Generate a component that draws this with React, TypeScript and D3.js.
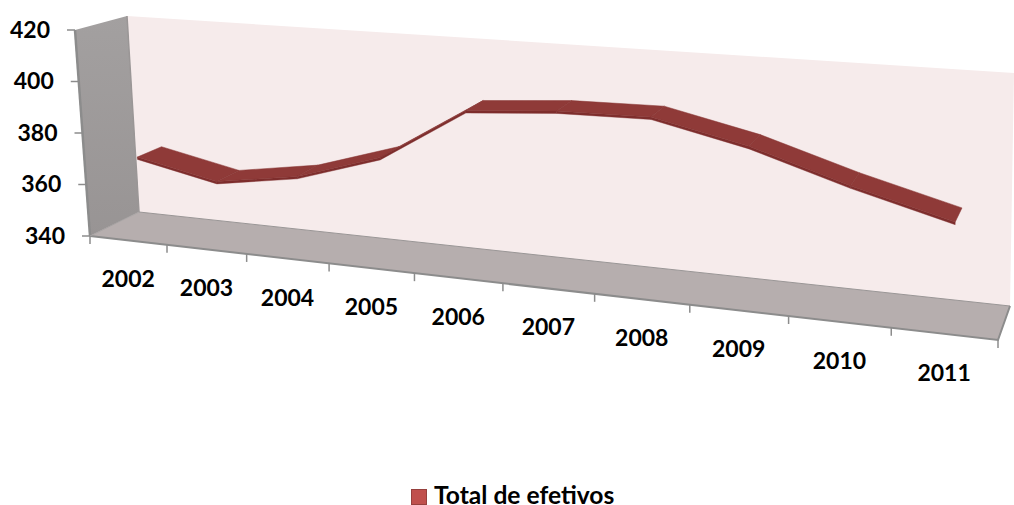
import React from "react";
import * as d3 from "d3";

const years = ["2002","2003","2004","2005","2006","2007","2008","2009","2010","2011"];
const totals = [370.5, 364, 369, 379, 399, 401.5, 402, 394.5, 384, 375];
const yTicks = [340, 360, 380, 400, 420];
const seriesName = "Total de efetivos";

type P = [number, number];
// screen corners of the chart box: f = front plane, b = back wall; l/r, b/t
const box = {
  flb: [90, 236] as P, frb: [998, 340] as P, flt: [75, 30] as P, frt: [1003, 95] as P,
  blb: [139, 212] as P, brb: [1010, 306] as P, blt: [127, 16] as P, brt: [1014, 73] as P,
};
const W = 1014, H = 505;
const catScale = d3.scaleLinear().domain([0, years.length]).range([0, 1]);
const valScale = d3.scaleLinear().domain([340, 420]).range([0, 1]);
const persp = (u: number) => u / (u + 1.199 * (1 - u));
const mix = (a: P, b: P, t: number): P => [a[0] + (b[0] - a[0]) * t, a[1] + (b[1] - a[1]) * t];

function project(cat: number, val: number, depth: number): P {
  const u = persp(catScale(cat)), v = valScale(val);
  const front = mix(mix(box.flb, box.frb, u), mix(box.flt, box.frt, u), v);
  const back = mix(mix(box.blb, box.brb, u), mix(box.blt, box.brt, u), v);
  return mix(front, back, depth);
}
const poly = (pts: P[]) => pts.map((p) => p.map((n) => n.toFixed(1)).join(",")).join(" ");

const D0 = 0.22, D1 = 0.72, THICK = 0.9;
// the ribbon's points sit a little right of the label centres
const ribbonCat = d3.scaleLinear().domain([0, years.length - 1]).range([0.55, 0.56]);

export default function App() {
  return (
    <svg width={W} height={H} viewBox={`0 0 ${W} ${H}`}
      style={{ position: "absolute", left: 0, top: 0, fontFamily: "Lato", fontWeight: 700 }}>
      <defs>
        <linearGradient id="wallL" x1="0" y1="0" x2="0" y2="1">
          <stop offset="0" stopColor="#a3a0a0" />
          <stop offset="1" stopColor="#989494" />
        </linearGradient>
      </defs>
      <rect width={W} height={H} fill="#fff" />
      <polygon points={poly([box.blt, box.brt, box.brb, box.blb])} fill="#f6ebeb" />
      <polygon points={poly([box.flt, box.blt, box.blb, box.flb])} fill="url(#wallL)" />
      <polygon points={poly([box.blb, box.brb, box.frb, box.flb])} fill="#b6aeae" />
      {/* edges */}
      <polyline points={poly([box.blb, box.brb])} fill="none" stroke="#9a9696" strokeWidth={1} />
      <polyline points={poly([box.flb, box.frb, box.brb])} fill="none" stroke="#8c8c8c" strokeWidth={2} />
      <polyline points={poly([box.flt, box.flb])} fill="none" stroke="#8c8c8c" strokeWidth={2.5} />
      <polyline points={poly([box.blt, box.blb])} fill="none" stroke="#9a9696" strokeWidth={1.5} />
      <polyline points={poly([box.blb, box.flb])} fill="none" stroke="#a6a2a2" strokeWidth={1} />

      {/* value axis */}
      {yTicks.map((t) => {
        const [x, y] = project(0, t, 0);
        return (
          <g key={t}>
            <line x1={x - 8} x2={x} y1={y} y2={y} stroke="#8c8c8c" strokeWidth={1.5} />
            <text x={x - 25} y={y + 2} textAnchor="end" dominantBaseline="middle" fontSize={23} fill="#000">{t}</text>
          </g>
        );
      })}
      {/* category axis */}
      {d3.range(years.length + 1).map((i) => {
        const [x, y] = project(i, 340, 0);
        return <line key={i} x1={x} x2={x} y1={y} y2={y + 8} stroke="#8c8c8c" strokeWidth={1.5} />;
      })}
      {years.map((yr, i) => {
        const [x, y] = project(i + 0.5, 340, 0);
        return <text key={yr} x={x} y={y + 41} textAnchor="middle" dominantBaseline="middle" fontSize={23} fill="#000">{yr}</text>;
      })}

      {/* ribbon */}
      {totals.slice(0, -1).map((val, i) => {
        const next = totals[i + 1];
        const a = i + ribbonCat(i), b = i + 1 + ribbonCat(i + 1);
        return (
          <g key={i}>
            <polygon
              points={poly([project(a, val, D0), project(b, next, D0), project(b, next - THICK, D0), project(a, val - THICK, D0)])}
              fill="#7e2e2d" stroke="#7e2e2d" strokeWidth={0.4} />
            <polygon
              points={poly([project(a, val, D0), project(b, next, D0), project(b, next, D1), project(a, val, D1)])}
              fill="#8f3a38" stroke="#863432" strokeWidth={0.5} />
          </g>
        );
      })}

      {/* legend */}
      <rect x={411.5} y={489.5} width={15} height={15} fill="#c0504d" stroke="#96403d" strokeWidth={1} />
      <text x={434} y={497.5} dominantBaseline="middle" fontSize={24.6} fill="#000">{seriesName}</text>
    </svg>
  );
}
